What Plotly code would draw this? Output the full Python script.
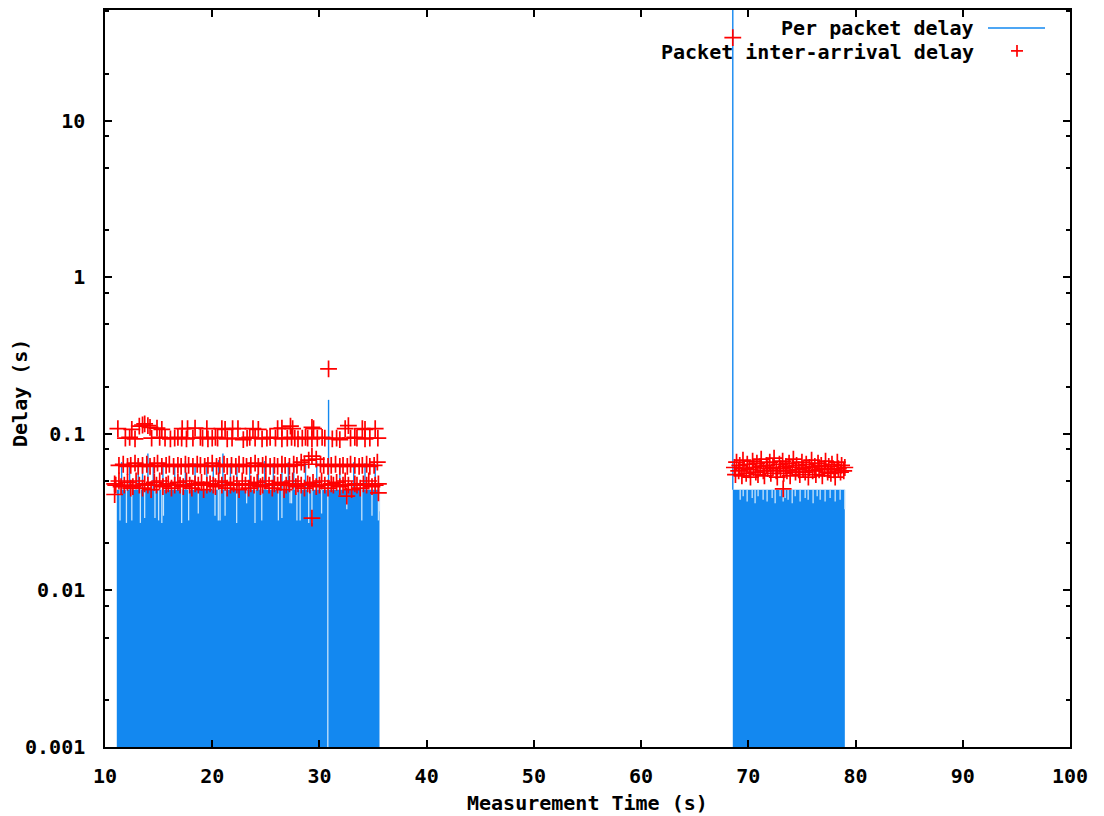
import plotly.graph_objects as go

# ---------------- data ----------------
# contiguous runs of packets (start time, end time, typical per-packet delay)
block_start = [11.1, 68.55]
block_end = [35.6, 79.0]
block_delay = [0.044, 0.044]

# packets whose delay is lower than the run's typical value (time, delay)
dip_t = [11.4, 12.0, 12.5, 13.3, 13.7, 14.66, 15.0, 15.3, 15.45, 17.15, 17.8, 18.7,
         20.26, 20.57, 20.73, 21.2, 22.28, 23.21, 23.99, 24.62, 26.17, 26.5, 27.26,
         27.4, 27.9, 28.2, 29.0, 29.3, 30.2, 30.78, 32.55, 33.95, 34.9, 35.5, 35.6,
         69.24, 69.52, 69.89, 70.36, 70.63, 70.91, 71.38, 71.75, 72.22, 72.5, 72.96,
         73.25, 73.43, 73.71, 74.09, 74.37, 74.83, 75.3, 75.58, 76.04, 76.42, 76.7,
         77.16, 77.63, 78.1, 78.56, 79.0]
dip_v = [0.028, 0.027, 0.028, 0.027, 0.029, 0.029, 0.028, 0.027, 0.030, 0.027, 0.028, 0.031,
         0.030, 0.028, 0.028, 0.030, 0.027, 0.036, 0.027, 0.028, 0.028, 0.029, 0.036,
         0.036, 0.028, 0.028, 0.027, 0.027, 0.031, 0.001, 0.033, 0.028, 0.030, 0.028, 0.032,
         0.038, 0.040, 0.037, 0.039, 0.036, 0.040, 0.038, 0.037, 0.039, 0.036, 0.040,
         0.037, 0.039, 0.038, 0.036, 0.040, 0.037, 0.039, 0.038, 0.036, 0.040, 0.038,
         0.037, 0.039, 0.037, 0.038, 0.033]

# packets whose delay is higher than the run's typical value (time, delay)
spike_t = [11.55, 12.3, 13.1, 13.5, 14.0, 14.5, 15.4, 16.5, 17.5, 18.4, 19.5, 20.1,
           20.6, 21.0, 21.7, 22.3, 23.5, 24.3, 24.9, 25.7, 26.5, 27.1, 27.6, 28.7,
           29.75, 30.85, 31.9, 33.2, 34.25, 35.2, 68.55]
spike_v = [0.066, 0.064, 0.068, 0.065, 0.075, 0.064, 0.066, 0.063, 0.067, 0.065, 0.066, 0.064,
           0.068, 0.075, 0.065, 0.063, 0.066, 0.064, 0.067, 0.065, 0.063, 0.066, 0.064, 0.065,
           0.067, 0.165, 0.064, 0.066, 0.065, 0.064, 60.0]

# packet inter-arrival delay (time, delay)
ia_low = [(10.9, 0.048), (10.9, 0.041), (11.0, 0.047), (11.3, 0.050), (11.5, 0.046), (11.8, 0.047),
          (12.1, 0.049), (12.4, 0.045), (12.6, 0.046), (12.9, 0.050), (13.2, 0.047), (13.5, 0.045),
          (13.7, 0.048), (14.0, 0.047), (14.3, 0.044), (14.6, 0.049), (14.8, 0.047), (15.1, 0.050),
          (15.4, 0.046), (15.7, 0.047), (15.9, 0.048), (16.2, 0.045), (16.5, 0.047), (16.8, 0.049),
          (17.0, 0.047), (17.3, 0.046), (17.6, 0.050), (17.9, 0.047), (18.1, 0.045), (18.4, 0.048),
          (18.7, 0.047), (19.0, 0.049), (19.2, 0.044), (19.5, 0.047), (19.8, 0.048), (20.1, 0.047),
          (20.3, 0.046), (20.6, 0.050), (20.9, 0.047), (21.2, 0.049), (21.4, 0.045), (21.7, 0.047),
          (22.0, 0.048), (22.3, 0.047), (22.5, 0.044), (22.8, 0.050), (23.1, 0.047), (23.4, 0.045),
          (23.6, 0.048), (23.9, 0.047), (24.2, 0.049), (24.5, 0.046), (24.7, 0.047), (25.0, 0.050),
          (25.3, 0.047), (25.6, 0.045), (25.8, 0.048), (26.1, 0.047), (26.4, 0.049), (26.7, 0.044),
          (26.9, 0.047), (27.2, 0.048), (27.5, 0.050), (27.8, 0.046), (28.0, 0.048), (28.3, 0.047),
          (28.6, 0.045), (28.9, 0.048), (29.1, 0.047), (29.4, 0.049), (29.7, 0.046), (30.0, 0.047),
          (30.2, 0.050), (30.5, 0.047), (30.8, 0.045), (31.1, 0.048), (31.3, 0.047), (31.6, 0.049),
          (31.9, 0.046), (32.2, 0.047), (32.4, 0.050), (32.7, 0.047), (33.0, 0.044), (33.3, 0.048),
          (33.5, 0.047), (33.8, 0.045), (34.1, 0.048), (34.4, 0.047), (34.6, 0.050), (34.9, 0.046),
          (35.2, 0.047), (35.5, 0.048), (35.5, 0.042)]
ia_mid = [(11.3, 0.063), (11.7, 0.064), (12.1, 0.062), (12.4, 0.063), (12.8, 0.065), (13.1, 0.062),
          (13.5, 0.063), (13.9, 0.064), (14.2, 0.062), (14.6, 0.063), (14.9, 0.065), (15.3, 0.062),
          (15.7, 0.063), (16.0, 0.064), (16.4, 0.062), (16.8, 0.063), (17.1, 0.062), (17.5, 0.064),
          (17.8, 0.063), (18.2, 0.062), (18.6, 0.064), (18.9, 0.063), (19.3, 0.062), (19.6, 0.063),
          (20.0, 0.065), (20.4, 0.062), (20.7, 0.063), (21.1, 0.064), (21.4, 0.062), (21.8, 0.063),
          (22.2, 0.062), (22.5, 0.064), (22.9, 0.063), (23.2, 0.062), (23.6, 0.063), (24.0, 0.065),
          (24.3, 0.062), (24.7, 0.063), (25.0, 0.064), (25.4, 0.062), (25.8, 0.063), (26.1, 0.062),
          (26.5, 0.064), (26.8, 0.063), (27.2, 0.062), (27.6, 0.064), (27.9, 0.063), (28.3, 0.066),
          (28.6, 0.064), (29.0, 0.068), (29.3, 0.072), (29.7, 0.069), (30.1, 0.064), (30.4, 0.063),
          (30.8, 0.062), (31.1, 0.063), (31.5, 0.064), (31.9, 0.062), (32.2, 0.063), (32.6, 0.062),
          (32.9, 0.064), (33.3, 0.063), (33.7, 0.062), (34.0, 0.063), (34.4, 0.064), (34.7, 0.062),
          (35.1, 0.063), (35.4, 0.066)]
ia_high = [(11.9, 0.094), (12.3, 0.095), (12.8, 0.093), (14.35, 0.094), (15.1, 0.095), (15.6, 0.094),
           (16.1, 0.093), (16.5, 0.094), (16.8, 0.095), (17.15, 0.094), (17.6, 0.093), (18.2, 0.094),
           (18.9, 0.095), (19.1, 0.094), (19.6, 0.093), (20.0, 0.094), (20.3, 0.095), (20.5, 0.094),
           (21.4, 0.093), (21.85, 0.094), (22.9, 0.092), (23.25, 0.094), (23.5, 0.095), (24.0, 0.094),
           (24.65, 0.093), (25.1, 0.094), (25.4, 0.095), (25.9, 0.094), (26.5, 0.093), (27.0, 0.094),
           (27.4, 0.095), (27.7, 0.094), (28.0, 0.093), (28.4, 0.094), (28.7, 0.095), (28.9, 0.094),
           (29.3, 0.093), (29.8, 0.094), (30.25, 0.095), (30.5, 0.094), (31.2, 0.093), (31.6, 0.094),
           (31.9, 0.092), (32.9, 0.094), (33.3, 0.095), (33.5, 0.094), (34.25, 0.093), (34.7, 0.094),
           (35.45, 0.094)]
ia_top = [(11.2, 0.108), (12.5, 0.107), (13.2, 0.112), (13.5, 0.114), (13.7, 0.116), (14.0, 0.113),
          (14.2, 0.110), (14.85, 0.109), (15.3, 0.107), (17.2, 0.108), (17.7, 0.108), (18.4, 0.109),
          (19.5, 0.108), (20.9, 0.108), (21.2, 0.107), (21.9, 0.108), (22.4, 0.108), (23.8, 0.108),
          (24.3, 0.107), (26.1, 0.108), (26.5, 0.109), (27.3, 0.112), (27.5, 0.108), (29.3, 0.110),
          (29.45, 0.108), (32.4, 0.108), (32.7, 0.113), (34.0, 0.108), (34.25, 0.107), (35.2, 0.108)]
ia_outliers = [(30.85, 0.26), (29.3, 0.029), (32.55, 0.040), (68.55, 34.0), (73.25, 0.0446)]
ia_run2 = [(68.7, 0.061), (68.8, 0.055), (68.9, 0.066), (69.1, 0.058), (69.2, 0.063), (69.4, 0.054),
           (69.5, 0.068), (69.6, 0.060), (69.8, 0.056), (69.9, 0.064), (70.1, 0.059), (70.2, 0.053),
           (70.4, 0.067), (70.5, 0.061), (70.7, 0.057), (70.8, 0.065), (70.9, 0.055), (71.1, 0.062),
           (71.2, 0.069), (71.4, 0.058), (71.5, 0.054), (71.7, 0.063), (71.8, 0.060), (72.0, 0.066),
           (72.1, 0.056), (72.3, 0.061), (72.4, 0.070), (72.6, 0.058), (72.7, 0.053), (72.9, 0.064),
           (73.0, 0.060), (73.2, 0.067), (73.3, 0.056), (73.5, 0.062), (73.6, 0.058), (73.8, 0.065),
           (73.9, 0.054), (74.1, 0.061), (74.2, 0.069), (74.4, 0.057), (74.5, 0.063), (74.7, 0.059),
           (74.8, 0.055), (75.0, 0.066), (75.1, 0.060), (75.3, 0.057), (75.4, 0.064), (75.6, 0.053),
           (75.7, 0.061), (75.9, 0.068), (76.0, 0.058), (76.2, 0.062), (76.3, 0.055), (76.5, 0.065),
           (76.6, 0.059), (76.8, 0.063), (76.9, 0.054), (77.1, 0.060), (77.2, 0.067), (77.4, 0.057),
           (77.5, 0.062), (77.7, 0.056), (77.8, 0.064), (78.0, 0.059), (78.1, 0.053), (78.3, 0.066),
           (78.4, 0.060), (78.6, 0.057), (78.7, 0.063), (78.9, 0.058), (79.0, 0.061)]

x_ticks = [10, 20, 30, 40, 50, 60, 70, 80, 90, 100]
y_ticks = [0.001, 0.01, 0.1, 1, 10]
y_tick_text = ["0.001", "0.01", "0.1", "1", "10"]
y_minor = [m * d for d in [0.001, 0.01, 0.1, 1, 10] for m in (2, 5, 8)]

FLOOR = 0.001
BLUE = "#1388f0"
RED = "#ff0000"
FONT = dict(family="DejaVu Sans Mono", size=20, color="black", weight="bold")

fig = go.Figure()

# runs of impulses
for s, e, d in zip(block_start, block_end, block_delay):
    fig.add_trace(go.Scatter(x=[s, s, e, e, s], y=[FLOOR, d, d, FLOOR, FLOOR], mode="lines",
                             fill="toself", fillcolor=BLUE, line=dict(width=0, color=BLUE),
                             hoverinfo="skip", showlegend=False))

def top_of(t):
    for s, e, d in zip(block_start, block_end, block_delay):
        if s - 0.01 <= t <= e + 0.01:
            return d
    return FLOOR

# lower impulses: the gap between the impulse top and the run's level
dx, dy = [], []
for t, v in zip(dip_t, dip_v):
    dx += [t, t, None]
    dy += [v, top_of(t), None]
fig.add_trace(go.Scatter(x=dx, y=dy, mode="lines", line=dict(color="#c8e4fb", width=1.3),
                         hoverinfo="skip", showlegend=False))

# higher impulses
sx, sy = [], []
for t, v in zip(spike_t, spike_v):
    sx += [t, t, None]
    sy += [top_of(t), v, None]
fig.add_trace(go.Scatter(x=sx, y=sy, mode="lines", line=dict(color=BLUE, width=1.4),
                         hoverinfo="skip", showlegend=False))

# inter-arrival crosses
for grp in [ia_low, ia_mid, ia_high, ia_top, ia_run2, ia_outliers]:
    fig.add_trace(go.Scatter(x=[p[0] for p in grp], y=[p[1] for p in grp], mode="markers",
                             marker=dict(symbol="cross-thin", size=12,
                                         line=dict(color=RED, width=1.7)),
                             hoverinfo="skip", showlegend=False))

# page body has an 8px margin: the figure's div starts at (8, 8) in the window
OFF = 8
FW, FH = 1104 - OFF, 816 - OFF
# plot area in window pixels: x 105..1070, y 8..747
L, R, T, B = 105, 1070, 8, 747

def px(x):
    return (x - L) / (R - L)

def py(y):
    return (B - y) / (B - T)

annotations = [
    dict(text="Per packet delay", x=px(976), y=py(26), xref="paper", yref="paper",
         xanchor="right", yanchor="middle", showarrow=False, font=FONT),
    dict(text="Packet inter-arrival delay", x=px(976), y=py(50), xref="paper", yref="paper",
         xanchor="right", yanchor="middle", showarrow=False, font=FONT),
    dict(text="Measurement Time (s)", x=px(587), y=py(803), xref="paper", yref="paper",
         xanchor="center", yanchor="middle", showarrow=False, font=FONT),
    dict(text="Delay (s)", x=px(20), y=py(392), xref="paper", yref="paper", textangle=-90,
         xanchor="center", yanchor="middle", showarrow=False, font=FONT),
]
shapes = [
    dict(type="line", xref="paper", yref="paper", x0=px(988), x1=px(1045), y0=py(26), y1=py(26),
         line=dict(color=BLUE, width=1.5)),
    dict(type="line", xref="paper", yref="paper", x0=px(1011), x1=px(1023), y0=py(49), y1=py(49),
         line=dict(color=RED, width=1.7)),
    dict(type="line", xref="paper", yref="paper", x0=px(1017), x1=px(1017), y0=py(43), y1=py(55),
         line=dict(color=RED, width=1.7)),
]

fig.update_layout(
    width=FW, height=FH,
    margin=dict(l=L - OFF, r=FW - (R - OFF), t=T - OFF, b=FH - (B - OFF), pad=0),
    paper_bgcolor="white", plot_bgcolor="white",
    showlegend=False,
    annotations=annotations, shapes=shapes,
    xaxis=dict(range=[10, 100], tickmode="array", tickvals=x_ticks,
               ticks="inside", ticklen=7, tickwidth=1.5, tickcolor="black",
               showline=True, linecolor="black", linewidth=1.5, mirror="ticks",
               showgrid=False, zeroline=False, tickfont=FONT, ticklabelstandoff=10),
    yaxis=dict(type="log", range=[-3, 1.7076], tickmode="array", tickvals=y_ticks,
               ticktext=y_tick_text, ticks="inside", ticklen=7, tickwidth=1.5, tickcolor="black",
               minor=dict(tickmode="array", tickvals=y_minor, ticks="inside", ticklen=4,
                          tickwidth=1.5, tickcolor="black", showgrid=False),
               showline=True, linecolor="black", linewidth=1.5, mirror="ticks",
               showgrid=False, zeroline=False, tickfont=FONT, ticklabelstandoff=14),
)

fig.write_html("out.html")
